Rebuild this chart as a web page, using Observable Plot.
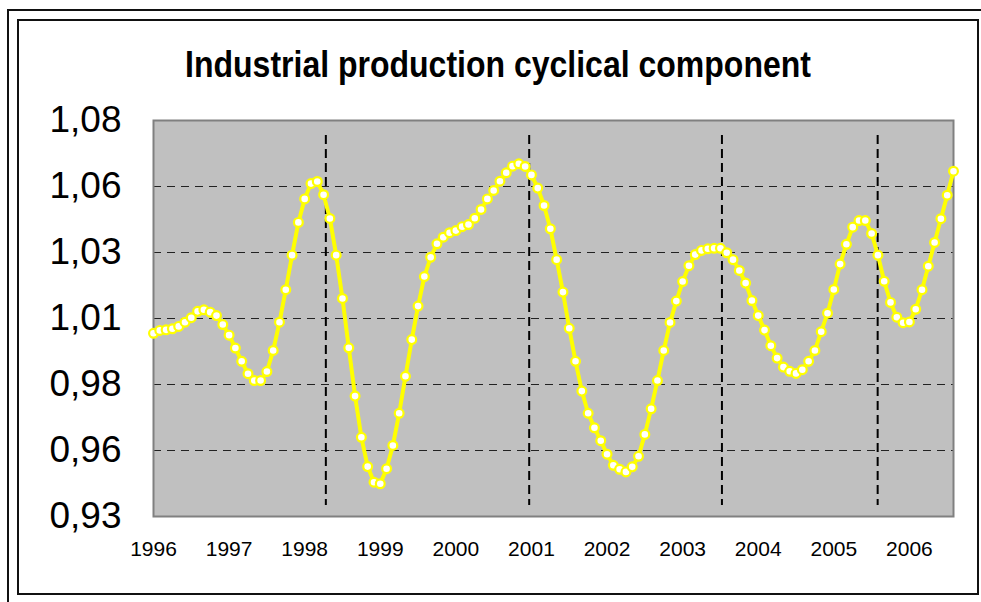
<!DOCTYPE html>
<html><head><meta charset="utf-8">
<script src="https://cdn.jsdelivr.net/npm/d3@7"></script>
<script src="https://cdn.jsdelivr.net/npm/@observablehq/plot@0.6"></script>
<style>
body{margin:0;background:#fff;}
#wrap{position:relative;width:981px;height:602px;overflow:hidden;font-family:"Liberation Sans",Arial,sans-serif;}
.ln{position:absolute;background:#111;}
#title{position:absolute;left:18px;width:960px;top:48px;text-align:center;font-weight:bold;font-size:32px;line-height:32px;color:#000;white-space:nowrap;transform:scaleY(1.15);transform-origin:50% 50%;}
#chart{position:absolute;left:0;top:0;}
</style></head><body>
<div id="wrap">
  <div id="chart"></div>
  <div class="ln" style="left:8px;top:9px;width:973px;height:2px"></div>
  <div class="ln" style="left:7px;top:9px;width:2px;height:593px"></div>
  <div style="position:absolute;left:17px;top:19px;width:958px;height:572px;border:2px solid #111"></div>
  <div id="title">Industrial production cyclical component</div>
</div>
<script>
// Monthly series, January 1996 onwards
const startYear = 1996;
const values = [
  0.9994, 1.0005, 1.0007, 1.0011, 1.0020, 1.0036, 1.0053, 1.0077, 1.0083, 1.0074, 1.0061, 1.0027,
  0.9987, 0.9938, 0.9888, 0.9841, 0.9815, 0.9815, 0.9849, 0.9929, 1.0036, 1.0159, 1.0290, 1.0414,
  1.0503, 1.0561, 1.0569, 1.0519, 1.0429, 1.0290, 1.0126, 0.9939, 0.9756, 0.9600, 0.9489, 0.9430,
  0.9424, 0.9481, 0.9569, 0.9691, 0.9831, 0.9970, 1.0097, 1.0209, 1.0282, 1.0333, 1.0358, 1.0375,
  1.0383, 1.0398, 1.0406, 1.0430, 1.0463, 1.0503, 1.0535, 1.0570, 1.0602, 1.0627, 1.0636, 1.0626,
  1.0594, 1.0544, 1.0478, 1.0390, 1.0273, 1.0150, 1.0013, 0.9888, 0.9775, 0.9691, 0.9636, 0.9587,
  0.9536, 0.9494, 0.9479, 0.9469, 0.9488, 0.9528, 0.9611, 0.9708, 0.9815, 0.9929, 1.0035, 1.0116,
  1.0190, 1.0250, 1.0292, 1.0308, 1.0314, 1.0316, 1.0316, 1.0299, 1.0273, 1.0232, 1.0184, 1.0118,
  1.0061, 1.0006, 0.9947, 0.9900, 0.9866, 0.9850, 0.9842, 0.9856, 0.9888, 0.9929, 1.0000, 1.0070,
  1.0160, 1.0256, 1.0331, 1.0396, 1.0421, 1.0421, 1.0372, 1.0290, 1.0191, 1.0111, 1.0055, 1.0034,
  1.0037, 1.0085, 1.0159, 1.0248, 1.0338, 1.0428, 1.0517, 1.0608
];
// Vertical dashed markers (fractional years)
const cycleMarks = [1998.28, 2000.97, 2003.52, 2005.58];
const xTickYears = [1996, 1997, 1998, 1999, 2000, 2001, 2002, 2003, 2004, 2005, 2006];
const xTickLabels = ["1996", "1997", "1998", "1999", "2000", "2001", "2002", "2003", "2004", "2005", "2006"];
const yTicks = [0.93, 0.955, 0.98, 1.005, 1.03, 1.055, 1.08];
const yTickLabels = ["0,93", "0,96", "0,98", "1,01", "1,03", "1,06", "1,08"];
const yGrid = [0.955, 0.98, 1.005, 1.03, 1.055];
const markerTop = 1.0743, markerBottom = 0.9342;

const data = values.map((v, i) => ({t: startYear + i / 12, v}));

const chart = Plot.plot({
  width: 981,
  height: 602,
  marginLeft: 153,
  marginRight: 28,
  marginTop: 120,
  marginBottom: 86,
  style: {fontFamily: '"Liberation Sans", Arial, sans-serif', background: "transparent", color: "#000"},
  x: {domain: [startYear, startYear + (values.length - 1) / 12]},
  y: {domain: [0.93, 1.08]},
  marks: [
    Plot.frame({fill: "#c0c0c0"}),
    Plot.ruleY(yGrid, {stroke: "#222", strokeWidth: 1, strokeDasharray: "8,6"}),
    Plot.ruleX(cycleMarks, {y1: markerTop, y2: markerBottom, stroke: "#000", strokeWidth: 2, strokeDasharray: "9,5"}),
    Plot.frame({stroke: "#808080", strokeWidth: 2}),
    Plot.line(data, {x: "t", y: "v", stroke: "#ffff00", strokeWidth: 4}),
    Plot.dot(data, {x: "t", y: "v", r: 4.4, fill: "#ffffff", stroke: "#ffff00", strokeWidth: 2.2}),
    Plot.axisX(xTickYears, {tickSize: 0, tickPadding: 25, fontSize: 21, tickFormat: d => xTickLabels[xTickYears.indexOf(d)], label: null}),
    Plot.axisY(yTicks, {tickSize: 0, tickPadding: 32, fontSize: 37, tickFormat: d => yTickLabels[yTicks.indexOf(d)], label: null})
  ]
});
document.getElementById("chart").appendChild(chart);
</script>
</body></html>
